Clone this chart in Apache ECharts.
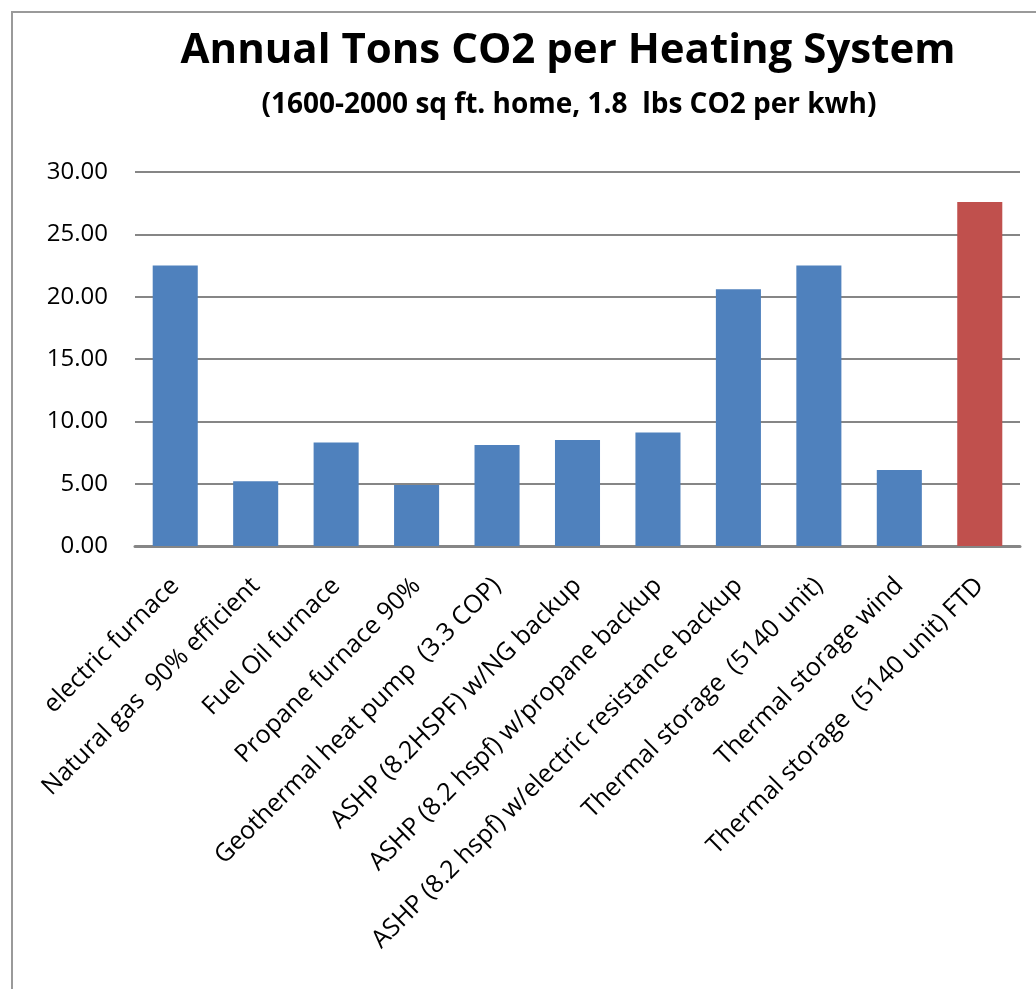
<!DOCTYPE html>
<html>
<head>
<meta charset="utf-8">
<script src="https://cdn.jsdelivr.net/npm/echarts@6/dist/echarts.min.js"></script>
<style>
  html, body { margin: 0; padding: 0; background: #fff; }
  #chart { width: 1036px; height: 989px; }
</style>
</head>
<body>
<div id="chart"></div>
<script>
var categories = [
  'electric furnace',
  'Natural gas  90% efficient',
  'Fuel Oil furnace',
  'Propane furnace 90%',
  'Geothermal heat pump  (3.3 COP)',
  'ASHP (8.2HSPF) w/NG backup',
  'ASHP (8.2 hspf) w/propane backup',
  'ASHP (8.2 hspf) w/electric resistance backup',
  'Thermal storage  (5140 unit)',
  'Thermal storage wind',
  'Thermal storage  (5140 unit) FTD'
];
var tons = [22.5, 5.2, 8.3, 4.9, 8.1, 8.5, 9.1, 20.6, 22.5, 6.1, 27.6];
var barColors = ['#4F81BD', '#4F81BD', '#4F81BD', '#4F81BD', '#4F81BD', '#4F81BD',
                 '#4F81BD', '#4F81BD', '#4F81BD', '#4F81BD', '#C0504D'];

var font = '"Open Sans", "Noto Sans", sans-serif';

var chart = echarts.init(document.getElementById('chart'));
chart.setOption({
  animation: false,
  title: [
    {
      text: 'Annual Tons CO2 per Heating System',
      left: 563,
      top: 25,
      textAlign: 'center',
      textStyle: { fontFamily: font, fontWeight: 'bold', fontSize: 42, color: '#000' }
    },
    {
      text: '(1600-2000 sq ft. home, 1.8  lbs CO2 per kwh)',
      left: 564,
      top: 86,
      textAlign: 'center',
      textStyle: { fontFamily: font, fontWeight: 'bold', fontSize: 28, color: '#000' }
    }
  ],
  graphic: [{
    type: 'rect',
    shape: { x: 12, y: 12, width: 1100, height: 1100 },
    style: { fill: 'none', stroke: '#9a9a9a', lineWidth: 2 },
    silent: true
  }],
  grid: { left: 135, right: 16, top: 172, bottom: 443 },
  xAxis: {
    type: 'category',
    data: categories,
    axisLine: { lineStyle: { color: '#868686', width: 3 } },
    axisTick: { show: false },
    axisLabel: {
      interval: 0,
      rotate: 45,
      margin: 36,
      fontFamily: font,
      fontSize: 25,
      color: '#000'
    }
  },
  yAxis: {
    type: 'value',
    min: 0,
    max: 30,
    interval: 5,
    axisLine: { show: false },
    axisTick: { show: false },
    splitLine: { lineStyle: { color: '#868686', width: 2 } },
    axisLabel: {
      margin: 27,
      fontFamily: font,
      fontSize: 24,
      color: '#000',
      formatter: function (v) { return v.toFixed(2); }
    }
  },
  series: [{
    type: 'bar',
    barWidth: '56%',
    data: tons.map(function (v, i) {
      return { value: v, itemStyle: { color: barColors[i] } };
    })
  }]
});
</script>
</body>
</html>
